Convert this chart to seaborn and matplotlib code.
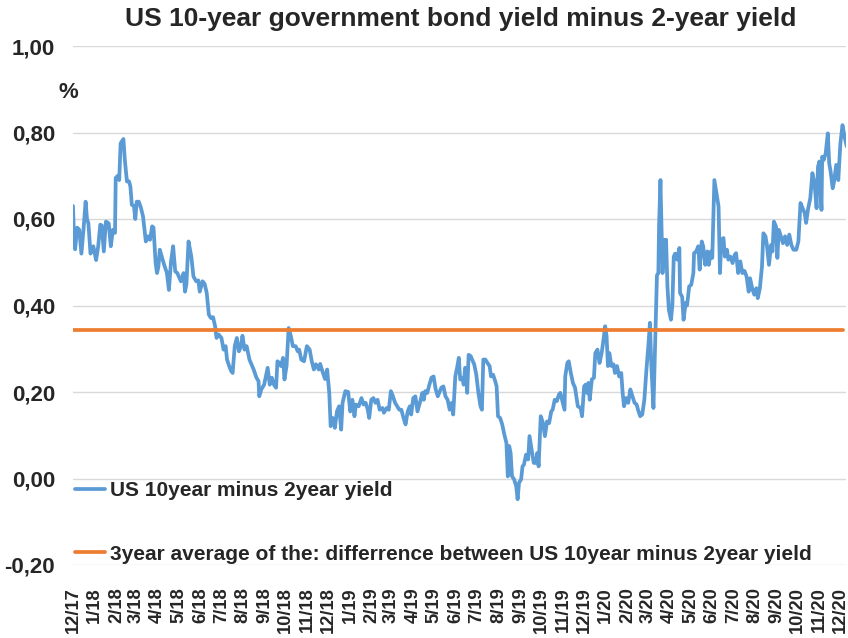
import matplotlib
matplotlib.use("Agg")
import matplotlib.pyplot as plt
import matplotlib.dates as mdates
from matplotlib.ticker import FuncFormatter, FixedLocator
import pandas as pd
import seaborn as sns

# ---------------- data ----------------
start_date = "2017-12-01"

day_offsets = [
    0, 1, 3, 6, 9, 12, 15, 18, 20, 22, 25, 29, 33, 36, 39, 41, 44, 47, 51, 54, 57, 60, 61, 64, 66, 68, 72, 74, 77, 80,
    82, 84, 87, 89, 91, 94, 97, 100, 104, 107, 110, 113, 115, 118, 120, 122, 124, 128, 131, 134, 137, 140, 143, 146,
    149, 154, 158, 160, 162, 165, 169,
    172, 176, 179, 181, 185, 188, 191, 194, 197, 200, 203, 205, 208, 212, 215, 218, 220, 223, 226, 228, 231, 234, 237,
    240, 242, 245, 248, 252, 258, 262, 265, 266, 269, 273, 275, 278, 281, 284, 287, 290, 292, 295, 297, 300, 302, 305,
    308, 311, 314, 318, 321, 323, 326, 330, 334, 338, 341, 344, 347, 351, 353,
    357, 360, 363, 366, 368, 371, 374, 377, 380, 383, 385, 389, 393, 396, 399, 402, 404, 408, 412, 415, 418, 421, 423,
    426, 429, 432, 435, 438, 442, 444, 448, 451, 454, 457, 460, 463, 466, 469, 472, 475, 478, 481, 483, 486, 489, 492,
    496, 499, 501, 503, 506, 509, 512, 515, 518, 521, 523, 526, 529, 532, 535, 538, 541, 543,
    546, 549, 551, 553, 556, 558, 560, 562, 563, 565, 568, 570, 573, 576, 579, 582, 584, 586, 589, 592, 595, 597, 600,
    603, 605, 607, 610, 613, 616, 619, 621, 623, 625, 627, 630, 633, 635, 637, 640, 642, 644, 647, 650, 652, 655, 658,
    661, 663, 665, 668, 671, 674, 677, 680, 683, 685, 688, 691, 694, 696, 699, 702, 703, 706, 708, 711, 714,
    717, 721, 725, 727, 730, 732, 734, 736, 738, 741, 744, 746, 749, 752, 755, 757, 760, 762, 764, 766, 769, 772, 774,
    777, 780, 783, 785, 787, 790, 793, 796, 799, 802, 805, 807, 810, 813, 816, 819, 822, 824, 826, 829, 832, 834, 836,
    837, 839,
    840, 842, 844, 846, 847, 849, 851, 854, 856, 858, 860, 863, 866, 867, 870, 872, 875, 877, 880, 883, 886, 887, 890,
    893, 895, 898, 900, 903, 906, 908, 911, 913, 916, 919, 922, 924, 926, 929, 931, 934, 936, 939, 942, 945, 947, 950,
    953, 956, 959, 962, 965, 967, 970, 973, 976, 978, 981, 984, 986, 989, 991, 994, 997, 999, 1001, 1004, 1006, 1008,
    1011, 1014, 1017, 1020, 1023, 1026, 1029, 1033, 1036, 1039, 1042, 1045, 1047, 1050, 1053, 1056, 1059, 1062, 1064,
    1066, 1069, 1070, 1072, 1075, 1078, 1080, 1082, 1085, 1087, 1090, 1093, 1096, 1099, 1102, 1105,
]

spread = [
    0.63, 0.58, 0.53, 0.58, 0.575, 0.52, 0.575, 0.64, 0.60, 0.59, 0.52, 0.537, 0.505, 0.537, 0.587, 0.585, 0.525, 0.594,
    0.59, 0.537, 0.575, 0.568, 0.695, 0.70, 0.69, 0.775, 0.785, 0.737, 0.687, 0.687, 0.675, 0.633, 0.63, 0.60, 0.64,
    0.64, 0.626, 0.606, 0.548, 0.56, 0.552, 0.583, 0.58, 0.498, 0.475, 0.49, 0.529, 0.506, 0.49, 0.476, 0.436, 0.502,
    0.537, 0.479, 0.475, 0.456, 0.475, 0.432, 0.45, 0.548, 0.513,
    0.467, 0.456, 0.458, 0.432, 0.456, 0.45, 0.429, 0.379, 0.371, 0.373, 0.352, 0.325, 0.333, 0.325, 0.298, 0.306,
    0.275, 0.26, 0.248, 0.244, 0.306, 0.325, 0.294, 0.306, 0.33, 0.298, 0.306, 0.275, 0.252, 0.233, 0.225, 0.19, 0.206,
    0.217, 0.233, 0.256, 0.217, 0.233, 0.217, 0.21, 0.271, 0.267, 0.26, 0.279, 0.229, 0.26, 0.348, 0.33, 0.306, 0.306,
    0.294, 0.298, 0.275, 0.271, 0.306, 0.298, 0.271, 0.252, 0.264, 0.252, 0.265,
    0.244, 0.23, 0.252, 0.198, 0.121, 0.14, 0.117, 0.155, 0.167, 0.113, 0.175, 0.202, 0.2, 0.155, 0.182, 0.144, 0.171,
    0.167, 0.186, 0.171, 0.175, 0.159, 0.14, 0.182, 0.186, 0.175, 0.182, 0.159, 0.163, 0.152, 0.163, 0.159, 0.202, 0.19,
    0.175, 0.167, 0.159, 0.159, 0.14, 0.125, 0.155, 0.167, 0.148, 0.186, 0.19, 0.155, 0.179, 0.198, 0.182, 0.202, 0.198,
    0.217, 0.233, 0.236, 0.206, 0.19, 0.198, 0.21, 0.213, 0.19, 0.182, 0.159, 0.175, 0.148,
    0.236, 0.26, 0.279, 0.229, 0.233, 0.217, 0.256, 0.24, 0.198, 0.286, 0.283, 0.275, 0.264, 0.24, 0.198, 0.167, 0.159,
    0.275, 0.275, 0.267, 0.26, 0.236, 0.24, 0.225, 0.213, 0.144, 0.14, 0.125, 0.102, 0.082, 0.005, 0.075, 0.059, 0.005,
    -0.002, -0.018, -0.048, -0.01, -0.002, 0.028, 0.032, 0.055, 0.044, 0.098, 0.067, 0.036, 0.036, 0.059, 0.028, 0.144,
    0.13, 0.098, 0.132, 0.128, 0.155, 0.159, 0.182, 0.179, 0.194, 0.198, 0.179, 0.159, 0.236, 0.267, 0.271, 0.244,
    0.221,
    0.21, 0.167, 0.163, 0.144, 0.213, 0.217, 0.198, 0.221, 0.182, 0.229, 0.233, 0.29, 0.298, 0.267, 0.29, 0.313, 0.352,
    0.33, 0.26, 0.29, 0.26, 0.264, 0.244, 0.26, 0.236, 0.244, 0.198, 0.167, 0.186, 0.175, 0.206, 0.19, 0.175, 0.171,
    0.159, 0.144, 0.148, 0.182, 0.252, 0.313, 0.36, 0.26, 0.163, 0.352, 0.47, 0.475, 0.583, 0.69,
    0.62, 0.475, 0.552, 0.50, 0.552, 0.444, 0.39, 0.367, 0.40, 0.513, 0.52, 0.506, 0.533, 0.429, 0.42, 0.367, 0.406,
    0.40, 0.444, 0.448, 0.475, 0.521, 0.525, 0.537, 0.483, 0.548, 0.537, 0.494, 0.525, 0.494, 0.525, 0.51, 0.69, 0.66,
    0.629, 0.475, 0.552, 0.556, 0.513, 0.529, 0.506, 0.513, 0.498, 0.517, 0.521, 0.475, 0.502, 0.475, 0.48, 0.467,
    0.432, 0.463, 0.44, 0.425, 0.44, 0.417, 0.44, 0.49, 0.567, 0.56, 0.54, 0.494, 0.54, 0.525, 0.594, 0.583, 0.51,
    0.575, 0.56, 0.544, 0.56, 0.54, 0.564, 0.54, 0.529, 0.529, 0.548, 0.637, 0.625, 0.614, 0.591, 0.625, 0.648, 0.706,
    0.683, 0.625, 0.721, 0.733, 0.621, 0.744, 0.736, 0.752, 0.798, 0.729, 0.71, 0.671, 0.687, 0.725, 0.69, 0.775, 0.817,
    0.79, 0.768,
]

avg_3y = 0.344

title = "US 10-year government bond yield minus 2-year yield"
series_label = "US 10year minus 2year yield"
avg_label = "3year average of the: differrence between US 10year minus 2year yield"
unit_label = "%"
y_ticks = [-0.20, 0.00, 0.20, 0.40, 0.60, 0.80, 1.00]

# ---------------- styling ----------------
sns.set_style("white")
plt.rcParams["font.family"] = ["Liberation Sans", "DejaVu Sans"]
plt.rcParams["font.weight"] = "bold"

BLUE = "#5B9BD5"
ORANGE = "#ED7D31"
GRID = "#D9D9D9"

W, H = 848, 638
fig = plt.figure(figsize=(W / 100, H / 100), dpi=100)
ax = fig.add_axes([73 / W, 1 - 565 / H, (846 - 73) / W, (565 - 46) / H])

dates = pd.Timestamp(start_date) + pd.to_timedelta(day_offsets, unit="D")
df = pd.DataFrame({"date": dates, "spread": spread})
avg_df = pd.DataFrame({"date": [dates[0], dates[-1] - pd.Timedelta(days=5)], "avg": [avg_3y, avg_3y]})

sns.lineplot(data=df, x="date", y="spread", ax=ax, color=BLUE, linewidth=2.7,
             label=series_label, solid_joinstyle="round")
sns.lineplot(data=avg_df, x="date", y="avg", ax=ax, color=ORANGE, linewidth=2.7, label=avg_label)

ax.set_xlim(pd.Timestamp(start_date), pd.Timestamp(start_date) + pd.Timedelta(days=1104))
ax.set_ylim(-0.2, 1.0)
ax.set_xlabel("")
ax.set_ylabel("")

ax.yaxis.set_major_locator(FixedLocator(y_ticks))
ax.yaxis.set_major_formatter(FuncFormatter(lambda v, p: f"{v:.2f}".replace(".", ",").replace("-0,00", "0,00")))
ax.xaxis.set_major_locator(mdates.MonthLocator(bymonthday=1))
ax.xaxis.set_major_formatter(FuncFormatter(
    lambda v, p: f"{mdates.num2date(v).month}/{mdates.num2date(v):%y}"))

ax.grid(False)
ax.yaxis.grid(True, color=GRID, linewidth=1.0)
ax.set_axisbelow(True)
for s in ax.spines.values():
    s.set_visible(False)

ax.tick_params(axis="y", length=0, pad=13, labelsize=16)
ax.tick_params(axis="x", length=0, pad=16, labelsize=13.2, rotation=90)

ax.legend(loc="upper left", bbox_to_anchor=(0.0025, 0.162), frameon=False, fontsize=15,
          labelspacing=2.15, handlelength=1.45, handletextpad=0.25, borderpad=0, borderaxespad=0)

fig.text(461 / W, 1 - 19 / H, title, ha="center", va="center", fontsize=19, fontweight="bold")
fig.text(68 / W, 1 - 93 / H, unit_label, ha="center", va="center", fontsize=16, fontweight="bold")

fig.canvas.draw()
for lab in ax.get_xticklabels() + ax.get_yticklabels():
    lab.set_fontweight("bold")

fig.savefig("out.png", dpi=100)
